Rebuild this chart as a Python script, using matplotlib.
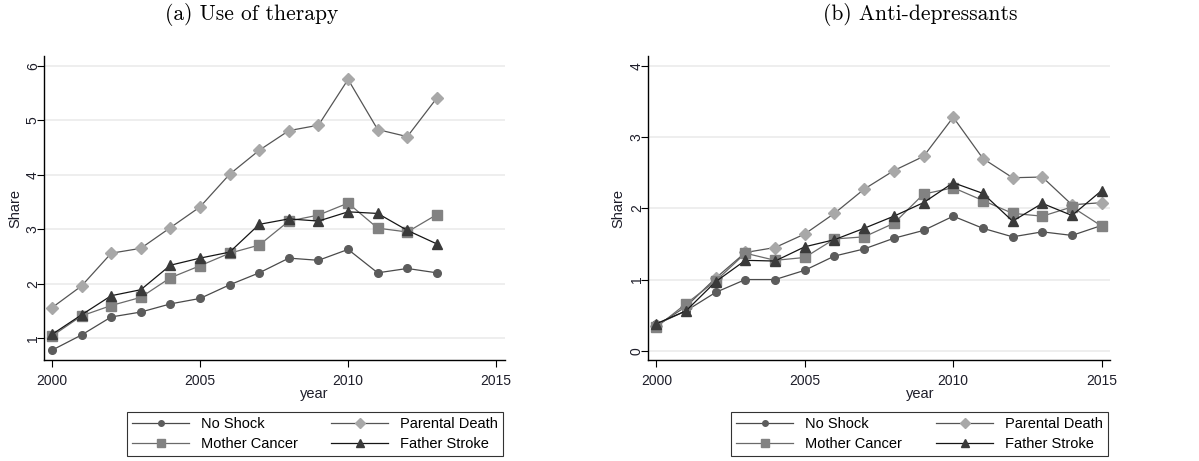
import numpy as np
import matplotlib
matplotlib.use("Agg")
import matplotlib.pyplot as plt
from matplotlib.lines import Line2D

# ---- data ----
years_a = list(range(2000, 2014))
years_b = list(range(2000, 2016))

therapy_no_shock = [0.78, 1.06, 1.39, 1.48, 1.63, 1.73, 1.98, 2.20, 2.47, 2.43, 2.63, 2.20, 2.28, 2.20]
therapy_parental_death = [1.56, 1.96, 2.56, 2.65, 3.03, 3.41, 4.01, 4.45, 4.81, 4.91, 5.75, 4.83, 4.70, 5.41]
therapy_mother_cancer = [1.04, 1.41, 1.60, 1.75, 2.11, 2.33, 2.56, 2.71, 3.15, 3.26, 3.48, 3.02, 2.95, 3.27]
therapy_father_stroke = [1.07, 1.43, 1.78, 1.89, 2.34, 2.47, 2.58, 3.09, 3.19, 3.15, 3.32, 3.29, 2.98, 2.73]

ad_no_shock = [0.37, 0.56, 0.82, 1.00, 1.00, 1.13, 1.33, 1.43, 1.58, 1.69, 1.89, 1.72, 1.60, 1.67, 1.62, 1.76]
ad_parental_death = [0.35, 0.62, 1.02, 1.38, 1.45, 1.64, 1.93, 2.27, 2.53, 2.73, 3.28, 2.70, 2.43, 2.44, 2.05, 2.08]
ad_mother_cancer = [0.33, 0.66, 0.98, 1.37, 1.27, 1.31, 1.57, 1.60, 1.79, 2.20, 2.29, 2.11, 1.93, 1.89, 2.02, 1.75]
ad_father_stroke = [0.38, 0.56, 0.97, 1.27, 1.26, 1.46, 1.56, 1.72, 1.89, 2.08, 2.36, 2.21, 1.82, 2.07, 1.90, 2.25]

labels = ["No Shock", "Parental Death", "Mother Cancer", "Father Stroke"]
titles = ["(a) Use of therapy", "(b) Anti-depressants"]

# style per series: marker, marker colour, line colour, marker size
styles = [
    ("o", "#5c5c5c", "#4a4a4a", 5.5),
    ("D", "#a8a8a8", "#555555", 6.5),
    ("s", "#828282", "#6a6a6a", 7.5),
    ("^", "#3a3a3a", "#151515", 7.5),
]

plt.rcParams["font.family"] = ["Liberation Sans", "DejaVu Sans"]

fig = plt.figure(figsize=(11.99, 4.61), dpi=100)
W, H = 1199.0, 461.0

def px_axes(x0, y0, x1, y1):
    return fig.add_axes([x0 / W, 1 - y1 / H, (x1 - x0) / W, (y1 - y0) / H])

ax1 = px_axes(44, 56, 505, 360)
ax2 = px_axes(648, 56, 1110, 360)

panels = [
    (ax1, years_a, [therapy_no_shock, therapy_parental_death, therapy_mother_cancer, therapy_father_stroke],
     (0.60, 6.18), [1, 2, 3, 4, 5, 6], (1999.73, 2015.30), 15),
    (ax2, years_b, [ad_no_shock, ad_parental_death, ad_mother_cancer, ad_father_stroke],
     (-0.13, 4.14), [0, 1, 2, 3, 4], (1999.72, 2015.28), 618),
]

for ax, yrs, series, ylim, yticks, xlim, share_x in panels:
    for vals, (mk, mc, lc, ms) in zip(series, styles):
        ax.plot(yrs, vals, color=lc, lw=0.9, marker=mk, markersize=ms,
                markerfacecolor=mc, markeredgecolor=mc, zorder=3)
    ax.set_xlim(*xlim)
    ax.set_ylim(*ylim)
    ax.set_xticks([2000, 2005, 2010, 2015])
    ax.set_yticks(yticks)
    ax.grid(axis="y", color="#ebebeb", lw=1.2, zorder=0)
    ax.set_axisbelow(True)
    for s in ["top", "right"]:
        ax.spines[s].set_visible(False)
    for s in ["left", "bottom"]:
        ax.spines[s].set_linewidth(1.0)
        ax.spines[s].set_color("black")
    ax.tick_params(axis="both", length=5, width=0.8, labelsize=10, colors="black",
                   labelcolor="#1e1e2a")
    ax.tick_params(axis="y", pad=-2)
    ax.tick_params(axis="x", pad=5)
    for lab in ax.get_yticklabels():
        lab.set_rotation(90)
        lab.set_va("center")
    fig.text(share_x / W, 1 - 208 / H, "Share", rotation=90, ha="center", va="center",
             fontsize=10.5, color="#1e1e2a")

# titles and x labels
fig.text(252 / W, 1 - 15 / H, titles[0], ha="center", va="center", fontsize=15.5, family="cmr10")
fig.text(920 / W, 1 - 15 / H, titles[1], ha="center", va="center", fontsize=15.5, family="cmr10")
fig.text(314 / W, 1 - 394 / H, "year", ha="center", va="center", fontsize=10.5, color="#1e1e2a")
fig.text(920 / W, 1 - 394 / H, "year", ha="center", va="center", fontsize=10.5, color="#1e1e2a")

# legends
handles = []
for (mk, mc, lc, ms), lab in zip(styles, labels):
    handles.append(Line2D([], [], color=lc, lw=0.9, marker=mk, markersize=ms - 1.5,
                          markerfacecolor=mc, markeredgecolor=mc, label=lab))
order = [handles[0], handles[2], handles[1], handles[3]]

for x0, x1 in [(120, 510), (724, 1115)]:
    leg = fig.legend(handles=order, loc="center", ncol=2, mode="expand",
                     bbox_to_anchor=(x0 / W, 1 - 458 / H, (x1 - x0) / W, 48 / H),
                     fontsize=10.5, frameon=True, fancybox=False, edgecolor="black",
                     handlelength=3.9, handletextpad=0.8, labelspacing=0.45,
                     borderpad=0.35, columnspacing=1.0)
    leg.get_frame().set_linewidth(0.8)

fig.savefig("out.png", dpi=100, facecolor="white")
